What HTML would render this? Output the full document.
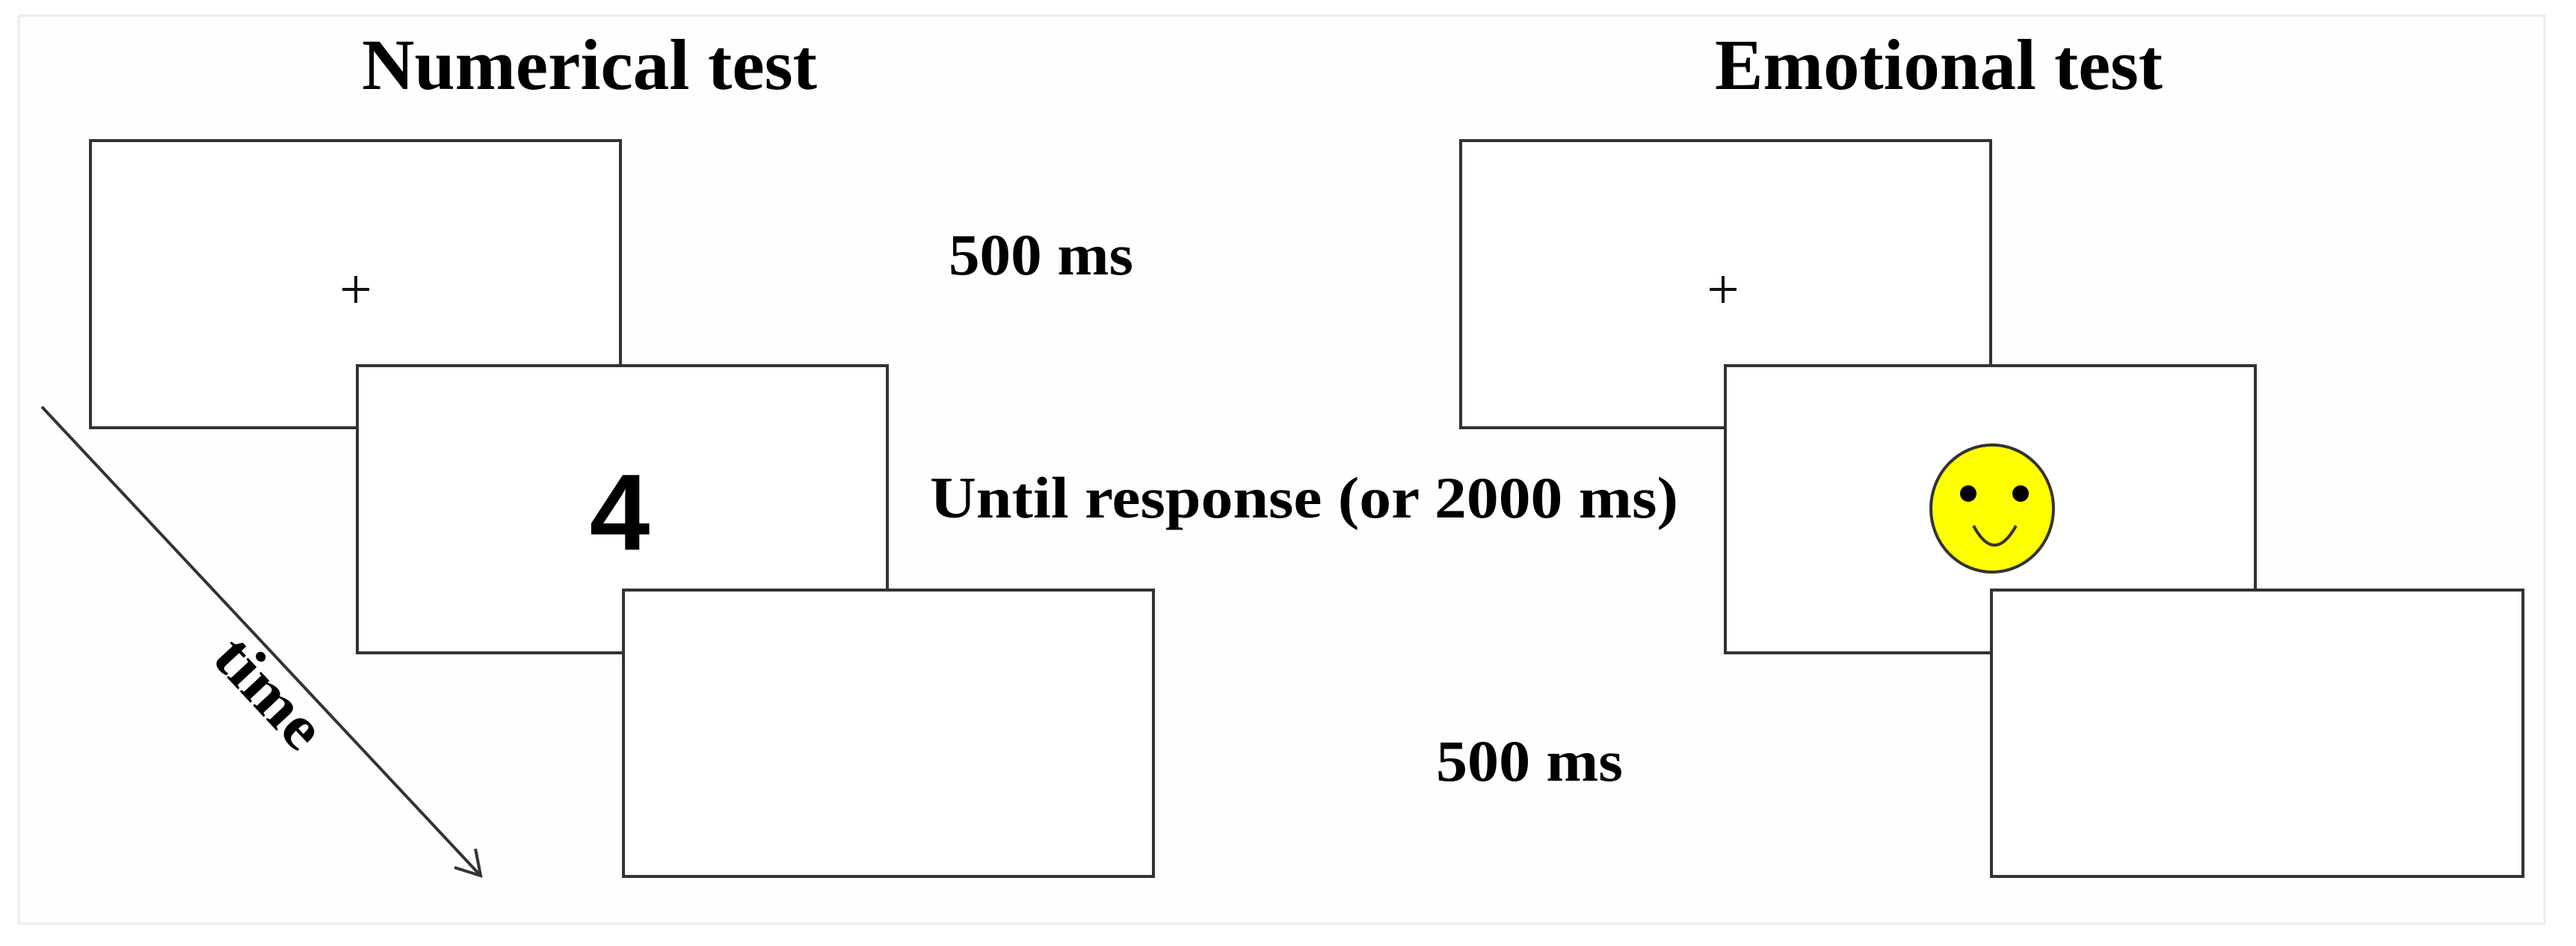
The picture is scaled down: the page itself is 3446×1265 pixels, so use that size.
<!DOCTYPE html>
<html><head><meta charset="utf-8"><style>html,body{margin:0;padding:0;background:#fff}svg{display:block}</style></head>
<body>
<svg width="3446" height="1265" viewBox="0 0 3446 1265" xmlns="http://www.w3.org/2000/svg">
<rect x="0" y="0" width="3446" height="1265" fill="#fff"/>
<rect x="25" y="21" width="3379" height="1214" fill="#fefefe" stroke="#ececec" stroke-width="3"/>
<g font-family="Liberation Serif, serif" font-weight="bold" fill="#000">
<text x="484" y="119" font-size="96" textLength="609" lengthAdjust="spacingAndGlyphs">Numerical test</text>
<text x="2294" y="119" font-size="96" textLength="599" lengthAdjust="spacingAndGlyphs">Emotional test</text>
<text x="1269" y="367" font-size="78" textLength="247" lengthAdjust="spacingAndGlyphs">500 ms</text>
<text x="1244" y="692" font-size="78" textLength="1001" lengthAdjust="spacingAndGlyphs">Until response (or 2000 ms)</text>
<text x="1921" y="1044" font-size="78" textLength="250" lengthAdjust="spacingAndGlyphs">500 ms</text>
<text x="0" y="0" font-size="84" textLength="172" lengthAdjust="spacingAndGlyphs" text-anchor="middle" transform="translate(340,945) rotate(47)">time</text>
</g>
<g fill="#fff" stroke="#333" stroke-width="4">
<rect x="121" y="188" width="709" height="384"/>
<rect x="478" y="489" width="709" height="384"/>
<rect x="834" y="789" width="709" height="383"/>
<rect x="1954" y="188" width="709" height="384"/>
<rect x="2308" y="489" width="709" height="384"/>
<rect x="2664" y="789" width="711" height="383"/>
</g>
<g stroke="#111" stroke-width="4">
<line x1="458" y1="387" x2="494" y2="387"/><line x1="476" y1="369" x2="476" y2="405"/>
<line x1="2287" y1="387" x2="2323" y2="387"/><line x1="2305" y1="369" x2="2305" y2="405"/>
</g>
<text x="829" y="735" font-family="Liberation Sans, sans-serif" font-weight="bold" font-size="145" text-anchor="middle" fill="#000">4</text>
<g stroke="#333" stroke-width="4" fill="none">
<line x1="56" y1="544" x2="643" y2="1171"/>
<polyline points="608,1160 643,1171 636,1135"/>
</g>
<ellipse cx="2665" cy="680" rx="82" ry="85" fill="#ffff00" stroke="#333" stroke-width="4"/>
<circle cx="2633" cy="660" r="11" fill="#000"/>
<circle cx="2703" cy="660" r="11" fill="#000"/>
<path d="M2640,703 Q2668,755 2697,703" fill="none" stroke="#333" stroke-width="4"/>
</svg>
</body></html>
